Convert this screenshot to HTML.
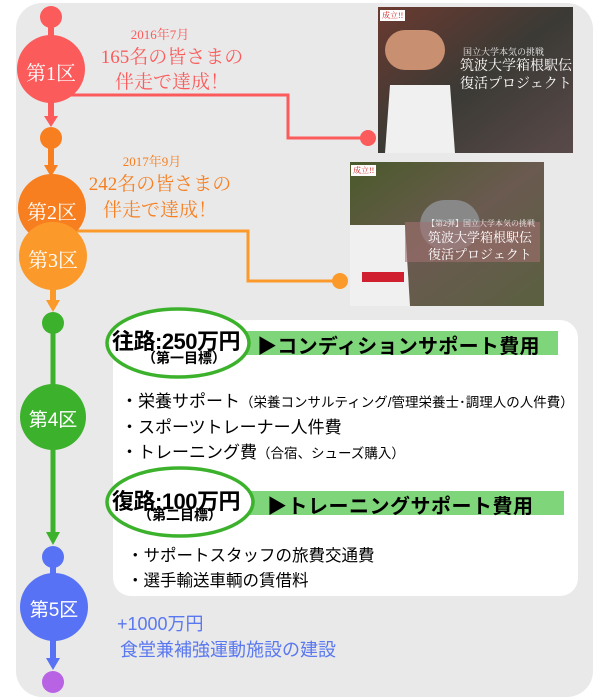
<!DOCTYPE html>
<html><head><meta charset="utf-8"><style>
body{margin:0;width:610px;height:700px;background:#fff;position:relative;overflow:hidden;font-family:"Liberation Serif","Noto Serif CJK SC",serif}
.a{position:absolute;white-space:nowrap}
.s{font-family:"Liberation Sans","Noto Sans CJK JP",sans-serif}
</style></head><body>
<div class="a" style="left:16px;top:3px;width:577px;height:694px;background:#e9e9e9;border-radius:26px"></div>
<svg class="a" style="left:0;top:0" width="610" height="700">
<defs>
<linearGradient id="g1" x1="0" y1="0" x2="1" y2="1"><stop offset="0" stop-color="#6b3a30"/><stop offset=".5" stop-color="#3b3a35"/><stop offset="1" stop-color="#5a4a4a"/></linearGradient>
<linearGradient id="g2" x1="0" y1="0" x2="1" y2="1"><stop offset="0" stop-color="#4a5a2a"/><stop offset=".5" stop-color="#6a5a50"/><stop offset="1" stop-color="#5a6040"/></linearGradient>
</defs>
<rect x="378" y="7" width="195" height="146" fill="url(#g1)"/>
<rect x="385" y="30" width="60" height="40" rx="20" fill="#c89070"/>
<path d="M390 85 L450 85 L455 153 L385 153Z" fill="#f0f0f0"/>
<rect x="350" y="162" width="194" height="144" fill="url(#g2)"/>
<rect x="420" y="200" width="60" height="50" rx="25" fill="#888"/>
<path d="M350 225 L405 225 L410 306 L350 306Z" fill="#f0f0f0"/>
<rect x="362" y="272" width="42" height="10" fill="#d02030"/>
<rect x="405" y="222" width="135" height="40" fill="#a07070" opacity=".6"/>
<polyline points="70,95 288,95 288,138 368,138" fill="none" stroke="#fb5b5b" stroke-width="3"/>
<circle cx="368" cy="138" r="8" fill="#fb5b5b"/>
<polyline points="75,231 248,231 248,281 340,281" fill="none" stroke="#fb9a2b" stroke-width="3"/>
<circle cx="340" cy="281" r="8" fill="#fb9a2b"/>
<line x1="51" y1="17" x2="51" y2="69" stroke="#fb5b5b" stroke-width="6"/>
<circle cx="51" cy="17" r="11" fill="#fb5b5b"/>
<circle cx="51" cy="69" r="34" fill="#fb5b5b"/>
<line x1="51" y1="100" x2="51" y2="118" stroke="#fb5b5b" stroke-width="6"/>
<polygon points="44,116 58,116 51,127" fill="#fb5b5b"/>
<circle cx="51" cy="138" r="11" fill="#f77f20"/>
<line x1="51" y1="140" x2="51" y2="168" stroke="#f77f20" stroke-width="6"/>
<polygon points="44,165 58,165 51,177" fill="#f77f20"/>
<circle cx="52" cy="208" r="34" fill="#f77f20"/>
<circle cx="53" cy="256" r="34" fill="#fb9a2b"/>
<line x1="53" y1="285" x2="53" y2="302" stroke="#fb9a2b" stroke-width="6"/>
<polygon points="46,300 60,300 53,312" fill="#fb9a2b"/>
<line x1="53" y1="323" x2="53" y2="535" stroke="#3cb22c" stroke-width="5"/>
<circle cx="53" cy="323" r="11" fill="#3cb22c"/>
<circle cx="53" cy="417" r="33" fill="#3cb22c"/>
<polygon points="46,532 60,532 53,545" fill="#3cb22c"/>
<line x1="53" y1="557" x2="53" y2="660" stroke="#5872f5" stroke-width="6"/>
<circle cx="53" cy="557" r="11" fill="#5872f5"/>
<circle cx="54" cy="607" r="34" fill="#5872f5"/>
<polygon points="46,658 60,658 53,670" fill="#5872f5"/>
<circle cx="53" cy="682" r="11" fill="#b862e4"/>
<rect x="113" y="320" width="465" height="276" rx="18" fill="#fff"/>
<rect x="246" y="331" width="312" height="24" fill="#7fd67a"/>
<rect x="250" y="491" width="314" height="24" fill="#7fd67a"/>
<ellipse cx="178" cy="343" rx="71" ry="34" fill="#fff" stroke="#3cb22c" stroke-width="3.5"/>
<ellipse cx="180" cy="502" rx="73" ry="34" fill="#fff" stroke="#3cb22c" stroke-width="3.5"/>
</svg>
<div class="a" style="left:380px;top:10px;background:#fff;color:#d02020;font-size:8px;padding:0 2px" >成立!!</div>
<div class="a" style="left:351px;top:165px;background:#fff;color:#d02020;font-size:8px;padding:0 2px">成立!!</div>
<div class="a" style="left:463px;top:45px;color:#eee;font-size:9px">国立大学本気の挑戦</div>
<div class="a" style="left:460px;top:58px;color:#fff;font-size:14px;line-height:18px">筑波大学箱根駅伝<br>復活プロジェクト</div>
<div class="a" style="left:427px;top:218px;color:#eee;font-size:8px">【第2弾】国立大学本気の挑戦</div>
<div class="a" style="left:428px;top:229px;color:#fff;font-size:13px;line-height:17px">筑波大学箱根駅伝<br>復活プロジェクト</div>

<div class="a" style="left:17px;top:57px;width:68px;text-align:center;color:#fff;font-size:20px">第1区</div>
<div class="a" style="left:18px;top:196px;width:68px;text-align:center;color:#fff;font-size:20px">第2区</div>
<div class="a" style="left:19px;top:244px;width:68px;text-align:center;color:#fff;font-size:20px">第3区</div>
<div class="a s" style="left:19px;top:405px;width:68px;text-align:center;color:#fff;font-size:19px">第4区</div>
<div class="a s" style="left:20px;top:595px;width:68px;text-align:center;color:#fff;font-size:19px">第5区</div>

<div class="a" style="left:100px;top:24px;width:120px;text-align:center;color:#fb5b5b;font-size:13px">2016年7月</div>
<div class="a" style="left:92px;top:45px;width:160px;text-align:center;color:#fb5b5b;font-size:19px;line-height:25px">165名の皆さまの<br>伴走で達成！</div>
<div class="a" style="left:92px;top:151px;width:120px;text-align:center;color:#f77f20;font-size:13px">2017年9月</div>
<div class="a" style="left:80px;top:172px;width:160px;text-align:center;color:#f77f20;font-size:19px;line-height:26px">242名の皆さまの<br>伴走で達成！</div>

<div class="a s" style="left:112px;top:324px;font-size:22px;font-weight:bold;letter-spacing:-0.5px">往路:250万円</div>
<div class="a s" style="left:142px;top:348px;font-size:14px;font-weight:bold">（第一目標）</div>
<div class="a s" style="left:257px;top:330px;font-size:20px;font-weight:bold;letter-spacing:0.3px">▶コンディションサポート費用</div>
<div class="a s" style="left:112px;top:484px;font-size:22px;font-weight:bold;letter-spacing:-0.5px">復路:100万円</div>
<div class="a s" style="left:138px;top:505px;font-size:14px;font-weight:bold">（第二目標）</div>
<div class="a s" style="left:267px;top:490px;font-size:20px;font-weight:bold;letter-spacing:0.5px">▶トレーニングサポート費用</div>

<div class="a s" style="left:121px;top:387px;font-size:17px">・栄養サポート<span style="font-size:13.5px">（栄養コンサルティング/管理栄養士･調理人の人件費）</span></div>
<div class="a s" style="left:121px;top:413px;font-size:17px">・スポーツトレーナー人件費</div>
<div class="a s" style="left:121px;top:438px;font-size:17px">・トレーニング費<span style="font-size:13.5px">（合宿、シューズ購入）</span></div>
<div class="a s" style="left:127px;top:542px;font-size:16.5px">・サポートスタッフの旅費交通費</div>
<div class="a s" style="left:127px;top:567px;font-size:16.5px">・選手輸送車輌の賃借料</div>
<div class="a s" style="left:117px;top:610px;font-size:18px;color:#5a78f0">+1000万円</div>
<div class="a s" style="left:120px;top:636px;font-size:18px;color:#5a78f0">食堂兼補強運動施設の建設</div>
</body></html>
